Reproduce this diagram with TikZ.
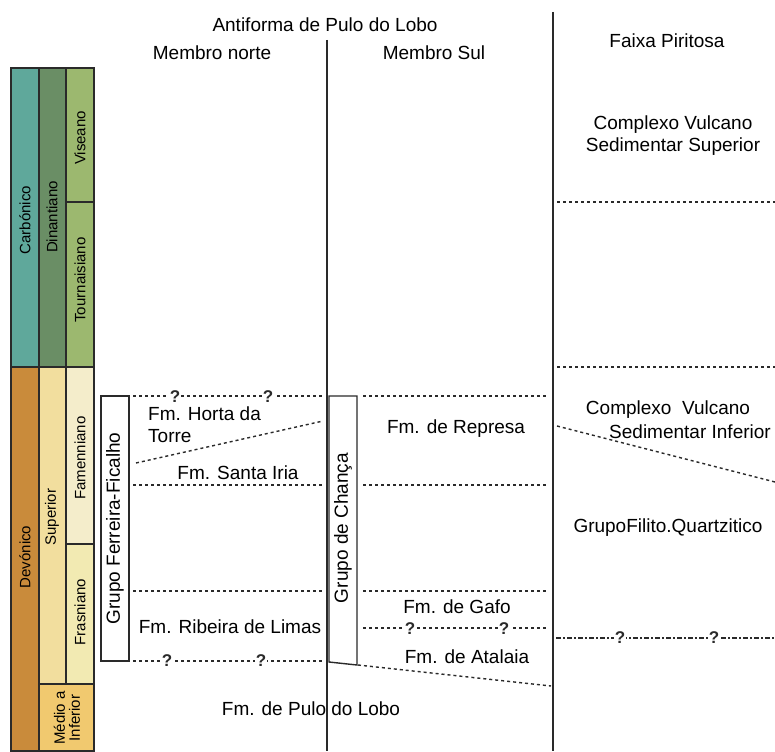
\documentclass[tikz,border=0pt]{standalone}
\usepackage{fontspec}
\setmainfont{Liberation Sans}
\definecolor{carb}{HTML}{5FA89B}
\definecolor{dinan}{HTML}{6A8E65}
\definecolor{visea}{HTML}{9CB86F}
\definecolor{devon}{HTML}{C98B3B}
\definecolor{super}{HTML}{F2DE9E}
\definecolor{famen}{HTML}{F4EDCB}
\definecolor{frasn}{HTML}{F2EAB2}
\definecolor{medio}{HTML}{F1C96F}
\definecolor{ink}{HTML}{2A2A2A}
\begin{document}
\begin{tikzpicture}[x=1pt,y=-1pt,
  lbl/.style={font=\fontsize{19}{22}\selectfont, inner sep=0pt, text=black},
  colbox/.style={draw=ink, line width=1.3pt},
  vlbl/.style={font=\fontsize{15}{17}\selectfont, rotate=90, inner sep=0pt, text=black},
  dotl/.style={draw=ink, line width=1.4pt, dash pattern=on 3pt off 3pt},
  dashdot/.style={draw=ink, line width=2pt, dash pattern=on 5pt off 2pt on 2pt off 2pt},
  sepl/.style={draw=ink, line width=2pt},
  qm/.style={font=\fontsize{17}{17}\selectfont\bfseries, inner sep=1pt, fill=white, text=ink},
  grp/.style={draw=ink, line width=1.4pt},
]
\useasboundingbox[fill=white] (0,0) rectangle (775,751);

% ---- time-scale columns
\path[colbox, fill=carb]  (11,68) rectangle (39,367);
\path[colbox, fill=devon] (11,367) rectangle (39,751);
\path[colbox, fill=dinan] (39,68) rectangle (66,367);
\path[colbox, fill=super] (39,367) rectangle (66,684);
\path[colbox, fill=medio] (39,684) rectangle (94,751);
\path[colbox, fill=visea] (66,68) rectangle (94,202);
\path[colbox, fill=visea] (66,202) rectangle (94,367);
\path[colbox, fill=famen] (66,367) rectangle (94,544);
\path[colbox, fill=frasn] (66,544) rectangle (94,684);

\node[vlbl] (carbonico) at (25,220) {Carbónico};
\node[vlbl] (devonico) at (25,557) {Devónico};
\node[vlbl] (dinantiano) at (52,217) {Dinantiano};
\node[vlbl] (superior) at (52,517) {Superior};
\node[vlbl] (viseano) at (80,138) {Viseano};
\node[vlbl] (tournai) at (80,280) {Tournaisiano};
\node[vlbl] (famenniano) at (80,458) {Famenniano};
\node[vlbl] (frasniano) at (80,612) {Frasniano};
\node[vlbl, align=center, font=\fontsize{15}{15}\selectfont] (medio) at (67,718) {Médio a\\Inferior};

% ---- separators
\draw[sepl] (327,40) -- (327,751);
\draw[sepl] (553,12) -- (553,751);

% ---- headers
\node[lbl] (antiforma) at (325,25) {Antiforma de Pulo do Lobo};
\node[lbl] (mnorte) at (212,53) {Membro norte};
\node[lbl] (msul) at (434,53) {Membro Sul};
\node[lbl] (faixa) at (667,41) {Faixa Piritosa};

% ---- group boxes
\node[grp, minimum width=28pt, minimum height=265pt, inner sep=0pt] (ferreira) at (115,528.5) {};
\node[font=\fontsize{19}{22}\selectfont, rotate=90, inner sep=0pt] (ferreiraT) at (ferreira.center) {Grupo Ferreira-Ficalho};
\path[grp] (329,396) -- (357,396) -- (357,665) -- (329,662) -- cycle;
\node[font=\fontsize{19}{22}\selectfont, rotate=90, inner sep=0pt] (chanca) at (343,528) {Grupo de Chança};

% ---- membro norte lines
\draw[dotl] (133,396) -- (322,396);
\node[qm] (q1) at (175,397) {?};
\node[qm] (q2) at (268,397) {?};
\draw[dotl] (136,463) -- (323,421);
\draw[dotl] (133,485) -- (322,485);
\draw[dotl] (133,591) -- (322,591);
\draw[dotl] (133,661) -- (322,661);
\node[qm] (q3) at (167,661) {?};
\node[qm] (q4) at (261,661) {?};

% ---- membro sul lines
\draw[dotl] (363,396) -- (548,396);
\draw[dotl] (363,485) -- (548,485);
\draw[dotl] (363,591) -- (548,591);
\draw[dotl] (363,628) -- (548,628);
\node[qm] (q5) at (410,629) {?};
\node[qm] (q6) at (504,629) {?};
\draw[dotl] (358,665) -- (551,686);

% ---- faixa piritosa lines
\draw[dotl] (557,202) -- (775,202);
\draw[dotl] (557,367) -- (775,367);
\draw[dotl] (557,426) -- (775,482);
\draw[dashdot] (556,638) -- (775,638);
\node[qm] (q7) at (620,638) {?};
\node[qm] (q8) at (714,638) {?};

% ---- formation labels
\node[lbl, align=left, anchor=north west] (horta) at (148,407) {Fm. Horta da\\Torre};
\node[lbl] (santa) at (238,473) {Fm. Santa Iria};
\node[lbl] (ribeira) at (230,627) {Fm. Ribeira de Limas};
\node[lbl] (represa) at (456,429) {Fm. de Represa};
\node[lbl] (gafo) at (457,607) {Fm. de Gafo};
\node[lbl] (atalaia) at (467,657) {Fm. de Atalaia};
\node[lbl] (pulo) at (311,709) {Fm. de Pulo do Lobo};
\node[lbl, align=center] (cvss) at (673,136) {Complexo Vulcano\\Sedimentar Superior};
\node[lbl] (cvi1) at (668,410) {Complexo\ \ Vulcano};
\node[lbl] (cvi2) at (690,432) {Sedimentar Inferior};
\node[lbl] (gfq) at (668,528) {GrupoFilito.Quartzitico};
\end{tikzpicture}
\end{document}
